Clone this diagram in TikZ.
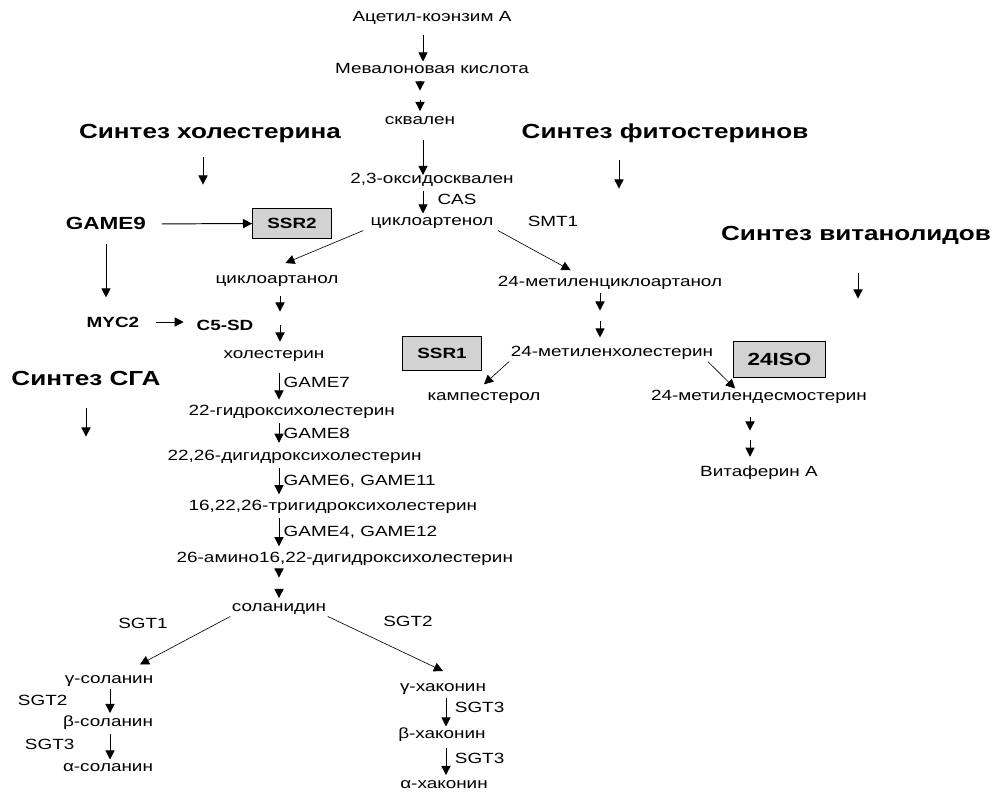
\documentclass[tikz,border=0pt]{standalone}
\usepackage{fontspec}
\setmainfont[FakeStretch=1.28]{Liberation Sans}
\usetikzlibrary{arrows.meta,positioning}
\tikzset{
  chem/.style={inner sep=1pt, font=\fontsize{10.5}{12}\selectfont, text height=7.5pt, text depth=2.2pt},
  enz/.style={chem, inner sep=0pt},
  heading/.style={inner sep=1pt, font=\fontsize{14.5}{17}\selectfont\bfseries, text height=10.5pt, text depth=3pt},
  gene/.style={inner sep=1pt, font=\fontsize{10.5}{12}\selectfont\bfseries, text height=7.5pt, text depth=0pt},
  genebox/.style={draw, fill=gray!35, line width=0.7pt, inner sep=0pt, font=\fontsize{10.5}{12}\selectfont\bfseries, minimum width=56pt, minimum height=22pt},
  arr/.style={-{Triangle[length=6.5pt,width=6.5pt]}, line width=0.7pt, shorten <=2pt, shorten >=1pt},
  thinarr/.style={arr, line width=0.45pt, shorten <=0pt, shorten >=0pt}
}
\begin{document}
\begin{tikzpicture}[x=0.025cm,y=-0.025cm]
\useasboundingbox[fill=white] (0,0) rectangle (995,794);

% main chain
\path (432,18) node[chem] (acetyl) {Ацетил-коэнзим А};
\path (432,70) node[chem] (mev) {Мевалоновая кислота};
\path (420,121) node[chem] (skv) {сквален};
\path (432,180) node[chem] (oxi) {2,3-оксидосквален};
\path (432,222) node[chem] (cart) {циклоартенол};
\path (553,223) node[enz] (smt) {SMT1};

% headings
\path (210,133) node[heading] (hchol) {Синтез холестерина};
\path (665,133) node[heading] (hphyt) {Синтез фитостеринов};
\path (856,235) node[heading] (hwith) {Синтез витанолидов};
\path (86,380) node[heading] (hsga) {Синтез СГА};
\coordinate (hcholend) at (203,186);
\coordinate (hphytend) at (619,190);
\coordinate (hwithend) at (858,300);
\coordinate (hsgaend) at (86,438);

% regulators
\path (106,224) node[gene, font=\fontsize{12.5}{14}\selectfont\bfseries] (game9) {GAME9};
\path (292,223.5) node[genebox] (ssr2) {SSR2};
\path (113,322) node[gene] (myc2) {MYC2};
\path (225,325) node[gene] (c5sd) {C5-SD};

% cholesterol branch
\path (277,280) node[chem] (cartan) {циклоартанол};
\path (274,355) node[chem] (chol) {холестерин};
\path (187,412) node[chem, anchor=west] (hydroxy) {22-гидроксихолестерин};
\path (166,457) node[chem, anchor=west] (dihyd) {22,26-дигидроксихолестерин};
\path (187,507) node[chem, anchor=west] (trihyd) {16,22,26-тригидроксихолестерин};
\path (175,559) node[chem, anchor=west] (amino) {26-амино16,22-дигидроксихолестерин};
\path (279,608) node[chem] (sol) {соланидин};
\path (143,625) node[enz] (sgt1) {SGT1};
\path (408,623) node[enz] (sgt2) {SGT2};
\path (109,680) node[chem] (gsol) {γ-соланин};
\path (108,723) node[chem] (bsol) {β-соланин};
\path (108,768) node[chem] (asol) {α-соланин};
\path (443,688) node[chem] (gcha) {γ-хаконин};
\path (442,735) node[chem] (bcha) {β-хаконин};
\path (444,785) node[chem] (acha) {α-хаконин};

% phytosterol branch
\path (610,283) node[chem] (mcart) {24-метиленциклоартанол};
\path (612,353) node[chem] (mchol) {24-метиленхолестерин};
\path (442,353.5) node[genebox, minimum width=55.5pt, minimum height=23.5pt] (ssr1) {SSR1};
\path (779.5,359.5) node[genebox, minimum width=66pt, minimum height=25pt, font=\fontsize{12.5}{14}\selectfont\bfseries] (iso) {24ISO};
\path (484,397) node[chem] (camp) {кампестерол};
\path (759,397) node[chem] (desmo) {24-метилендесмостерин};
\path (759,473) node[chem] (vitaf) {Витаферин А};

% columns and gaps
\coordinate (tcol) at (423,0);
\coordinate (gcol) at (279,0);
\coordinate (pcol) at (600,0);
\coordinate (wcol) at (750,0);
\coordinate (scol) at (110,0);
\coordinate (kcol) at (446,0);
\coordinate (mv1) at (420,92);   \coordinate (mv2) at (420,97);
\coordinate (ca1) at (280,313);  \coordinate (ca2) at (280,322);
\coordinate (mc1) at (600,312);  \coordinate (mc2) at (600,318);
\coordinate (de1) at (750,432);  \coordinate (de2) at (750,437);
\coordinate (am1) at (279,579);  \coordinate (am2) at (279,587);

% vertical arrows
\draw[arr, shorten <=6pt, shorten >=0pt] (tcol |- acetyl.south) -- (tcol |- mev.north);
\draw[arr] (mev.south -| mv1) -- (mv1);
\draw[arr] (mv2) -- (mv2 |- skv.north);
\draw[arr, shorten <=7.5pt, shorten >=-2.5pt] (tcol |- skv.south) -- (tcol |- oxi.north);
\draw[arr, shorten >=0pt] (tcol |- oxi.south) -- (tcol |- cart.north)
  node[enz, midway, right=10pt] (cas) {CAS};
\draw[arr, shorten <=5pt] (cartan.south -| ca1) -- (ca1);
\draw[arr, shorten >=3.5pt] (ca2) -- (ca2 |- chol.north);
\draw[arr, shorten <=1pt] (pcol |- mcart.south) -- (mc1);
\draw[arr, shorten >=5pt] (mc2) -- (pcol |- mchol.north);
\draw[arr, shorten <=8.5pt] (wcol |- desmo.south) -- (de1);
\draw[arr, shorten >=5.5pt] (de2) -- (wcol |- vitaf.north);
\draw[arr, shorten <=6.5pt, shorten >=2.8pt] (gcol |- chol.south) -- (gcol |- hydroxy.north)
  node[enz, midway, right=3pt] (g7) {GAME7};
\draw[arr, shorten >=4pt] (gcol |- hydroxy.south) -- (gcol |- dihyd.north)
  node[enz, midway, right=3pt] (g8) {GAME8};
\draw[arr, shorten >=3pt] (gcol |- dihyd.south) -- (gcol |- trihyd.north)
  node[enz, midway, right=3pt] (g6) {GAME6, GAME11};
\draw[arr, shorten >=3pt] (gcol |- trihyd.south) -- (gcol |- amino.north)
  node[enz, midway, right=3pt] (g4) {GAME4, GAME12};
\draw[arr, shorten <=1pt] (gcol |- amino.south) -- (am1);
\draw[arr] (am2) -- (gcol |- sol.north);
\draw[arr, shorten <=0pt] (scol |- gsol.south) -- (scol |- bsol.north)
  node[enz, midway, left=30pt] (sgt2a) {SGT2};
\draw[arr, shorten >=0pt] (scol |- bsol.south) -- (scol |- asol.north)
  node[enz, midway, left=25pt] (sgt3a) {SGT3};
\draw[arr, shorten <=1pt, shorten >=0pt] (kcol |- gcha.south) -- (kcol |- bcha.north)
  node[enz, midway, right=6pt, yshift=2pt] (sgt3b) {SGT3};
\draw[arr, shorten <=3pt] (kcol |- bcha.south) -- (kcol |- acha.north)
  node[enz, midway, right=6pt] (sgt3c) {SGT3};

% heading arrows
\draw[arr, shorten <=9pt] (hcholend |- hchol.south) -- (hcholend);
\draw[arr, shorten <=11pt] (hphytend |- hphyt.south) -- (hphytend);
\draw[arr, shorten <=19pt] (hwithend |- hwith.south) -- (hwithend);
\draw[arr, shorten <=12pt] (hsgaend |- hsga.south) -- (hsgaend);

% regulation
\draw[arr, shorten <=10pt, shorten >=0pt] (game9) -- (ssr2);
\draw[arr, shorten <=9pt, shorten >=12.5pt] (game9.south) -- (game9.south |- myc2.north);
\draw[arr, shorten <=11pt, shorten >=8pt] (myc2) -- (myc2 -| c5sd.west);

% branch lines
\draw[thinarr] ([xshift=-4pt]cart.south west) -- ([shift={(6pt,6pt)}]cartan.north);
\draw[thinarr] ([xshift=2pt]cart.south east) -- ([shift={(-28pt,3pt)}]mcart.north);
\draw[thinarr] (mchol.south west) -- ([yshift=3pt]camp.north);
\draw[thinarr] ([xshift=-5pt]mchol.south east) -- ([xshift=-17pt]desmo.north);
\draw[thinarr] (sol.south west) -- ([shift={(22pt,5pt)}]gsol.north);
\draw[thinarr] (sol.south east) -- ([yshift=6pt]gcha.north);
\end{tikzpicture}
\end{document}
